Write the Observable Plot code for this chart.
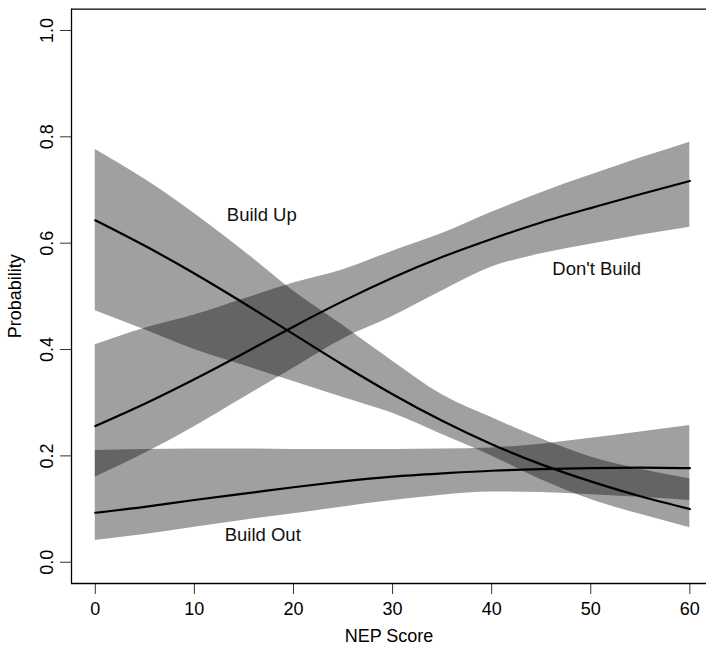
<!DOCTYPE html>
<html>
<head>
<meta charset="utf-8">
<script src="https://cdn.jsdelivr.net/npm/d3@7"></script>
<script src="https://cdn.jsdelivr.net/npm/@observablehq/plot@0.6"></script>
<style>
  html, body { margin: 0; padding: 0; background: #fff; }
  svg { font-family: "Liberation Sans", Arial, Helvetica, sans-serif; }
</style>
</head>
<body>
<div id="chart"></div>
<script>
// NEP score grid
const nep = [0, 5, 10, 15, 20, 25, 30, 35, 40, 45, 50, 55, 60];

// Build Up
const buildUp   = [0.643, 0.595, 0.543, 0.487, 0.429, 0.371, 0.316, 0.266, 0.222, 0.184, 0.152, 0.124, 0.100];
const buildUpLo = [0.473, 0.437, 0.400, 0.370, 0.340, 0.310, 0.280, 0.240, 0.200, 0.155, 0.118, 0.090, 0.065];
const buildUpHi = [0.776, 0.720, 0.656, 0.585, 0.510, 0.445, 0.378, 0.315, 0.272, 0.232, 0.198, 0.175, 0.157];

// Don't Build
const dontBuild   = [0.256, 0.298, 0.344, 0.393, 0.443, 0.491, 0.535, 0.574, 0.608, 0.639, 0.666, 0.692, 0.717];
const dontBuildLo = [0.160, 0.205, 0.255, 0.310, 0.365, 0.420, 0.462, 0.510, 0.555, 0.580, 0.598, 0.615, 0.630];
const dontBuildHi = [0.409, 0.440, 0.465, 0.495, 0.525, 0.550, 0.585, 0.618, 0.658, 0.695, 0.728, 0.760, 0.790];

// Build Out
const buildOut   = [0.093, 0.104, 0.117, 0.129, 0.141, 0.152, 0.161, 0.167, 0.172, 0.175, 0.177, 0.178, 0.177];
const buildOutLo = [0.041, 0.052, 0.066, 0.079, 0.091, 0.104, 0.116, 0.126, 0.132, 0.131, 0.127, 0.122, 0.116];
const buildOutHi = [0.210, 0.212, 0.213, 0.213, 0.212, 0.212, 0.212, 0.213, 0.215, 0.222, 0.233, 0.245, 0.257];

// Tick values
const xTicks = [0, 10, 20, 30, 40, 50, 60];
const yTicks = [0, 0.2, 0.4, 0.6, 0.8, 1.0];

// Curve labels
const labelNames = ["Build Up", "Don't Build", "Build Out"];
const labelX = [16.8, 50.6, 16.9];
const labelY = [0.652, 0.552, 0.052];

const series = [
  {name: "Build Up", est: buildUp, lo: buildUpLo, hi: buildUpHi},
  {name: "Don't Build", est: dontBuild, lo: dontBuildLo, hi: dontBuildHi},
  {name: "Build Out", est: buildOut, lo: buildOutLo, hi: buildOutHi}
];
const rows = series.flatMap(s => nep.map((x, i) => ({series: s.name, x, y: s.est[i], lo: s.lo[i], hi: s.hi[i]})));
const labels = labelNames.map((t, i) => ({t, x: labelX[i], y: labelY[i]}));

const chart = Plot.plot({
  width: 706,
  height: 648,
  marginLeft: 71,
  marginRight: 0,
  marginTop: 8.7,
  marginBottom: 65,
  style: {fontSize: "18px", fontFamily: "'Liberation Sans', Arial, Helvetica, sans-serif", background: "#fff"},
  x: {domain: [-2.4, 61.68]},
  y: {domain: [-0.04, 1.04]},
  marks: [
    Plot.areaY(rows, {x: "x", y1: "lo", y2: "hi", z: "series", fill: "#000", fillOpacity: 0.372, curve: "monotone-x"}),
    Plot.line(rows, {x: "x", y: "y", z: "series", stroke: "#000", strokeWidth: 2.2, curve: "natural"}),
    Plot.text(labels, {x: "x", y: "y", text: "t", fill: "#111", fontSize: 18.5}),
    Plot.axisX(xTicks, {tickSize: 11, tickPadding: 8, stroke: "#333", fontSize: 18, label: "NEP Score", labelAnchor: "center", labelOffset: 58, labelArrow: "none", tickFormat: d => String(d)}),
    Plot.axisY(yTicks, {tickSize: 11, tickPadding: 8, tickRotate: -90, stroke: "#333", fontSize: 18, label: "Probability", labelAnchor: "center", labelOffset: 63, labelArrow: "none", tickFormat: d => d.toFixed(1)}),
    Plot.ruleX([-2.4], {stroke: "#000", strokeWidth: 1.3}),
    Plot.ruleY([-0.04, 1.04], {stroke: "#000", strokeWidth: 1.3})
  ]
});
document.getElementById("chart").appendChild(chart);
</script>
</body>
</html>
